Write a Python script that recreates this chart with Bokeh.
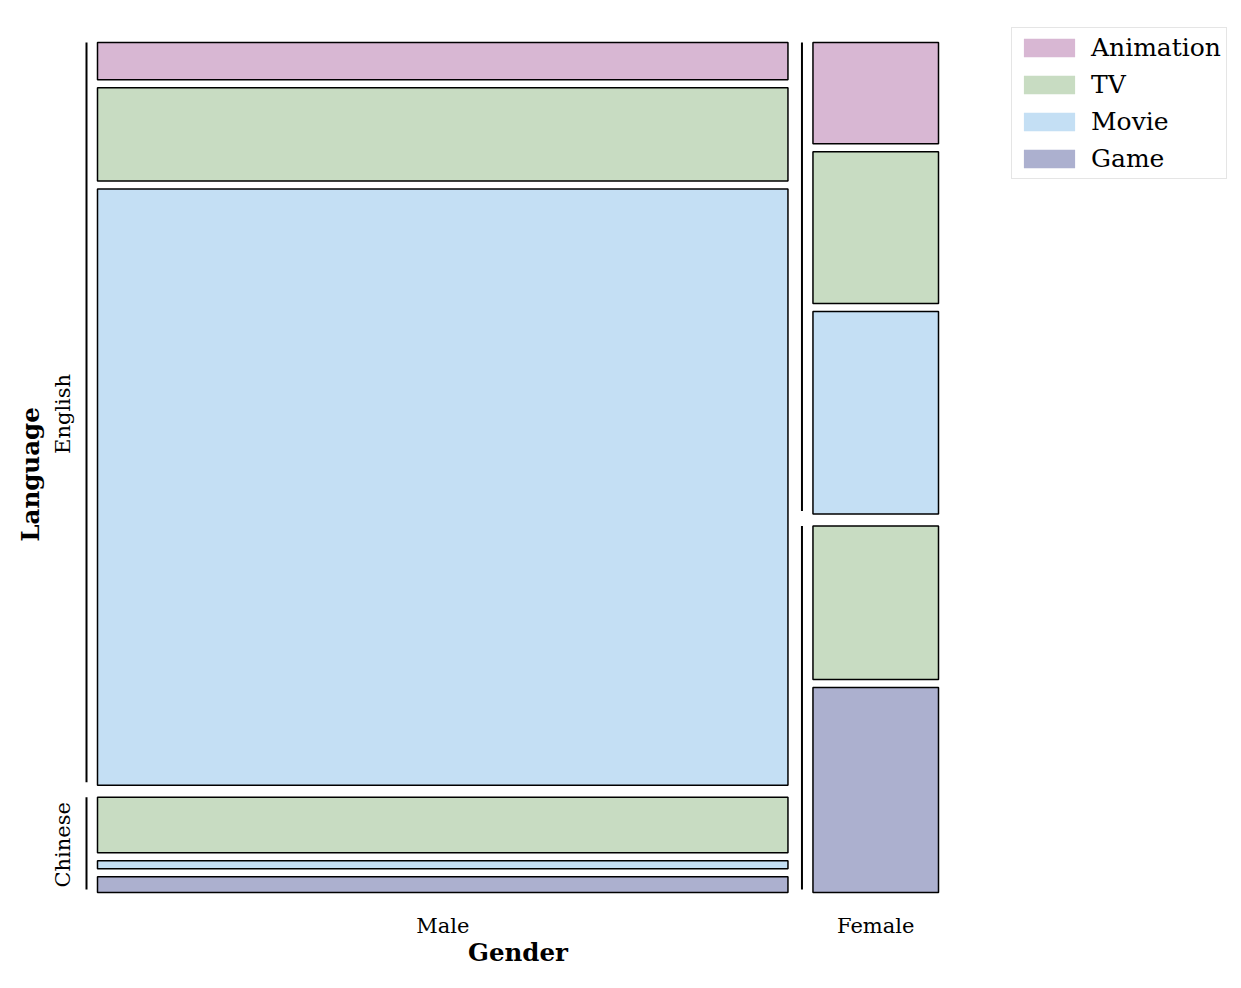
import math
from bokeh.plotting import figure
from bokeh.models import Range1d, Legend, LegendItem
from bokeh.embed import file_html
from bokeh.resources import INLINE
from bokeh.core.properties import value

genders = ["Male", "Female"]
languages = ["English", "Chinese"]
categories = ["Animation", "TV", "Movie", "Game"]
colors = ["#d8b7d3", "#c8dcc2", "#c4dff4", "#acb0cf"]

male_english = [4, 10, 64, 0]
male_chinese = [0, 7, 1, 2]
female_english = [2, 3, 4, 0]
female_chinese = [0, 3, 0, 4]

counts = {
    ("Male", "English"): male_english,
    ("Male", "Chinese"): male_chinese,
    ("Female", "English"): female_english,
    ("Female", "Chinese"): female_chinese,
}

# ---- layout constants (image pixel space) ----
W, H = 1238, 975
X0, X1 = 97, 938
Y0, Y1 = 42, 892
GAP_G, GAP_L, GAP_C = 25, 12, 8
FONT = "DejaVu Serif"

p = figure(width=W, height=H, output_backend="svg", toolbar_location=None,
           x_range=Range1d(0, W), y_range=Range1d(H, 0),
           min_border=0, outline_line_color=None)
p.axis.visible = False
p.grid.visible = False

gtot = {g: sum(sum(counts[(g, l)]) for l in languages) for g in genders}
grand = sum(gtot.values())
avail_x = X1 - X0 - GAP_G * (len(genders) - 1)

rects = {c: dict(left=[], right=[], top=[], bottom=[]) for c in categories}
seg_x0, seg_x1, seg_y0, seg_y1 = [], [], [], []
tick_x, tick_t = [], []
lang_y, lang_t = [], []

x = X0
for g in genders:
    w = avail_x * gtot[g] / grand
    tick_x.append(x + w / 2)
    tick_t.append(g)
    langs = [l for l in languages if sum(counts[(g, l)]) > 0]
    avail_y = Y1 - Y0 - GAP_L * (len(langs) - 1)
    y = Y0
    for l in langs:
        lt = sum(counts[(g, l)])
        h = avail_y * lt / gtot[g]
        seg_x0.append(x - 11); seg_x1.append(x - 11)
        seg_y0.append(y); seg_y1.append(y + h - 3)
        if g == genders[0]:
            lang_y.append(y + h / 2)
            lang_t.append(l)
        cats = [(c, v) for c, v in zip(categories, counts[(g, l)]) if v > 0]
        content = h - GAP_C * (len(cats) - 1)
        yy = y
        for c, v in cats:
            hh = content * v / lt
            rects[c]["left"].append(x)
            rects[c]["right"].append(x + w)
            rects[c]["top"].append(yy)
            rects[c]["bottom"].append(yy + hh)
            yy += hh + GAP_C
        y += h + GAP_L
    x += w + GAP_G

items = []
for c, col in zip(categories, colors):
    d = rects[c]
    fill_r = p.quad(left=d["left"], right=d["right"], top=d["top"],
                    bottom=d["bottom"], fill_color=col, line_color=None)
    p.quad(left=d["left"], right=d["right"], top=d["top"], bottom=d["bottom"],
           fill_color=None, line_color="black", line_width=1.5)
    items.append(LegendItem(label=c, renderers=[fill_r]))

p.segment(x0=seg_x0, y0=seg_y0, x1=seg_x1, y1=seg_y1, line_color="black",
          line_width=2)

p.text(x=tick_x, y=[925] * len(tick_x), text=tick_t, text_font=value(FONT),
       text_font_size="21px", text_align="center", text_baseline="middle",
       text_color="black")
p.text(x=[62] * len(lang_y), y=lang_y, text=lang_t, text_font=value(FONT),
       text_font_size="21px", text_align="center", text_baseline="middle",
       angle=math.pi / 2, text_color="black")
p.text(x=[(X0 + X1) / 2], y=[952], text=["Gender"], text_font=value(FONT),
       text_font_size="24.5px", text_font_style="bold", text_align="center",
       text_baseline="middle", text_color="black")
p.text(x=[30], y=[474], text=["Language"], text_font=value(FONT),
       text_font_size="24.5px", text_font_style="bold", text_align="center",
       text_baseline="middle", angle=math.pi / 2, text_color="black")

legend = Legend(items=items, location=(1011, H - 179),
                label_text_font=FONT, label_text_font_size="25px",
                label_text_color="black",
                glyph_width=64, glyph_height=23, label_standoff=10,
                padding=5, spacing=8, margin=0,
                border_line_color="#cccccc", border_line_width=1.5,
                background_fill_color="white", background_fill_alpha=1)
p.add_layout(legend, "center")

open("out.html", "w").write(file_html(p, INLINE))
